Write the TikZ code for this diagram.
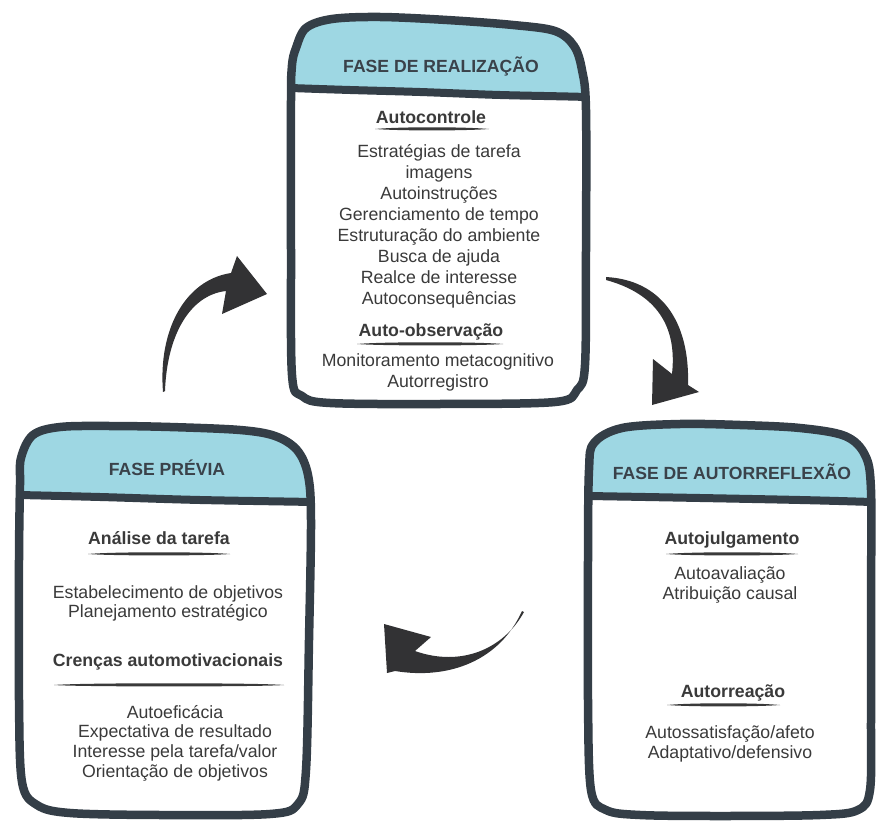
\documentclass[tikz,border=0pt]{standalone}
\usepackage{fontspec}
\setmainfont{Liberation Sans}

\definecolor{hdrblue}{RGB}{158,215,227}
\definecolor{frame}{RGB}{52,62,71}
\definecolor{hdrink}{RGB}{58,66,74}
\definecolor{ink}{RGB}{58,58,58}
\definecolor{arrowink}{RGB}{50,50,52}

% hand-drawn phase box: #1 outline points, #2 header separator points (right to left)
\newcommand{\phasebox}[2]{%
  \begin{scope}
    \clip plot[smooth cycle, tension=0.55] coordinates {#1};
    \fill[white] (0,0) rectangle (876,821);
    \fill[hdrblue] (0,0) -- (876,0) -- plot[smooth, tension=0.55] coordinates {#2} -- cycle;
    \draw[frame, line width=8pt, line cap=round] plot[smooth, tension=0.55] coordinates {#2};
  \end{scope}
  \draw[frame, line width=8.5pt, line join=round] plot[smooth cycle, tension=0.55] coordinates {#1};
}

% tapered pen stroke under a title: #1 y, #2 left x, #3 right x
\newcommand{\penline}[3]{%
  \fill[ink] (#2,#1) .. controls ({#2+25},{#1-2.3}) and ({#3-25},{#1-2.3}) .. (#3,#1)
             .. controls ({#3-25},{#1+1.9}) and ({#2+25},{#1+1.9}) .. cycle;}

\begin{document}
\begin{tikzpicture}[x=1pt, y=-1pt,
  hdr/.style={inner sep=0pt, anchor=base, text=hdrink, font=\fontsize{17.6pt}{21pt}\selectfont\bfseries},
  ttl/.style={inner sep=0pt, anchor=base, text=ink, font=\fontsize{17.7pt}{21pt}\selectfont\bfseries},
  item/.style={inner sep=0pt, anchor=base, text=ink, font=\fontsize{17.7pt}{21pt}\selectfont},
  bigarrow/.style={fill=arrowink}]

\useasboundingbox (0,0) rectangle (876,821);

% ---------- boxes ----------
\phasebox{(296,48) (306,28) (332,19) (380,17) (447,20) (513,25) (555,31) (574,46) (582,70) (586,110)
          (586,250) (585,365) (577,390) (555,402) (440,404) (330,403) (302,396) (292,375) (291,250) (291,100) (292,65)}
         {(600,99) (586,97) (500,95) (420,92) (350,90) (291,88) (275,87)}

\phasebox{(21,458) (33,435) (60,427) (110,426) (170,427) (240,430) (275,436) (297,450) (308,475) (311,520)
          (309,640) (306,770) (298,804) (270,814) (160,815) (70,813) (37,805) (22,782) (19,700) (19,560) (20,485)}
         {(325,503) (311,502) (200,500) (100,497) (19,495) (5,495)}

\phasebox{(594,443) (622,428) (680,424) (740,425) (800,428) (845,436) (865,455) (871,490) (871,600) (871,720)
          (870,790) (858,810) (820,815) (720,816) (640,815) (606,810) (591,790) (588,700) (588,560) (589,470)}
         {(880,503) (871,502) (800,500) (700,498) (588,496) (575,496)}

% ---------- headers ----------
\node[hdr] (hReal) at (441,73) {FASE DE REALIZAÇÃO};
\node[hdr] (hPrev) at (167,475) {FASE PRÉVIA};
\node[hdr] (hRefl) at (732,479) {FASE DE AUTORREFLEXÃO};

% ---------- realization phase ----------
\node[ttl] (tAutocontrole) at (431,124) {Autocontrole};
\penline{129}{375}{489}
\foreach \txt [count=\k] in {Estratégias de tarefa, imagens, Autoinstruções, Gerenciamento de tempo,
    Estruturação do ambiente, Busca de ajuda, Realce de interesse, Autoconsequências}
  \node[item] (ac\k) at (439,{158+20.9*(\k-1)}) {\txt};
\node[ttl] (tObs) at (431,336) {Auto-observação};
\penline{344}{357}{503}
\node[item] (obs1) at (438,366) {Monitoramento metacognitivo};
\node[item] (obs2) at (438,387) {Autorregistro};

% ---------- forethought phase ----------
\node[ttl] (tAnalise) at (159,544) {Análise da tarefa};
\penline{554}{88}{230}
\node[item] (an1) at (168,598) {Estabelecimento de objetivos};
\node[item] (an2) at (168,617) {Planejamento estratégico};
\node[ttl] (tCrencas) at (168,666) {Crenças automotivacionais};
\penline{685}{54}{284}
\foreach \txt [count=\k] in {Autoeficácia, Expectativa de resultado, Interesse pela tarefa/valor, Orientação de objetivos}
  \node[item] (cr\k) at (175,{718+19.7*(\k-1)}) {\txt};

% ---------- self-reflection phase ----------
\node[ttl] (tJulg) at (732,544) {Autojulgamento};
\penline{554}{666}{798}
\node[item] (ju1) at (730,579) {Autoavaliação};
\node[item] (ju2) at (730,599) {Atribuição causal};
\node[ttl] (tReac) at (733,697) {Autorreação};
\penline{705}{667}{780}
\node[item] (re1) at (730,738) {Autossatisfação/afeto};
\node[item] (re2) at (730,758) {Adaptativo/defensivo};

% ---------- cycle arrows ----------
\coordinate (a1tail) at (163,392);
\coordinate (a1tip)  at (267,294);
\fill[bigarrow] (a1tail) .. controls (158,330) and (185,280) .. (231,273) -- (237,256) -- (a1tip)
  -- (222,314) -- (226,291) .. controls (190,295) and (167,335) .. (165,391) -- cycle;

\coordinate (a2tail) at (606,277);
\coordinate (a2tip)  at (652,405);
\fill[bigarrow] (a2tail) .. controls (660,280) and (690,320) .. (688,385) -- (699,392) -- (a2tip)
  -- (653,359) -- (672,374) .. controls (678,320) and (650,292) .. (606,280) -- cycle;

\coordinate (a3tail) at (522,611);
\coordinate (a3tip)  at (384,624);
\fill[bigarrow] (a3tail) .. controls (500,660) and (450,680) .. (395,671) -- (387,673) -- (a3tip)
  -- (431,637) -- (415,651) .. controls (460,667) and (503,650) .. (524,612) -- cycle;

\end{tikzpicture}
\end{document}
